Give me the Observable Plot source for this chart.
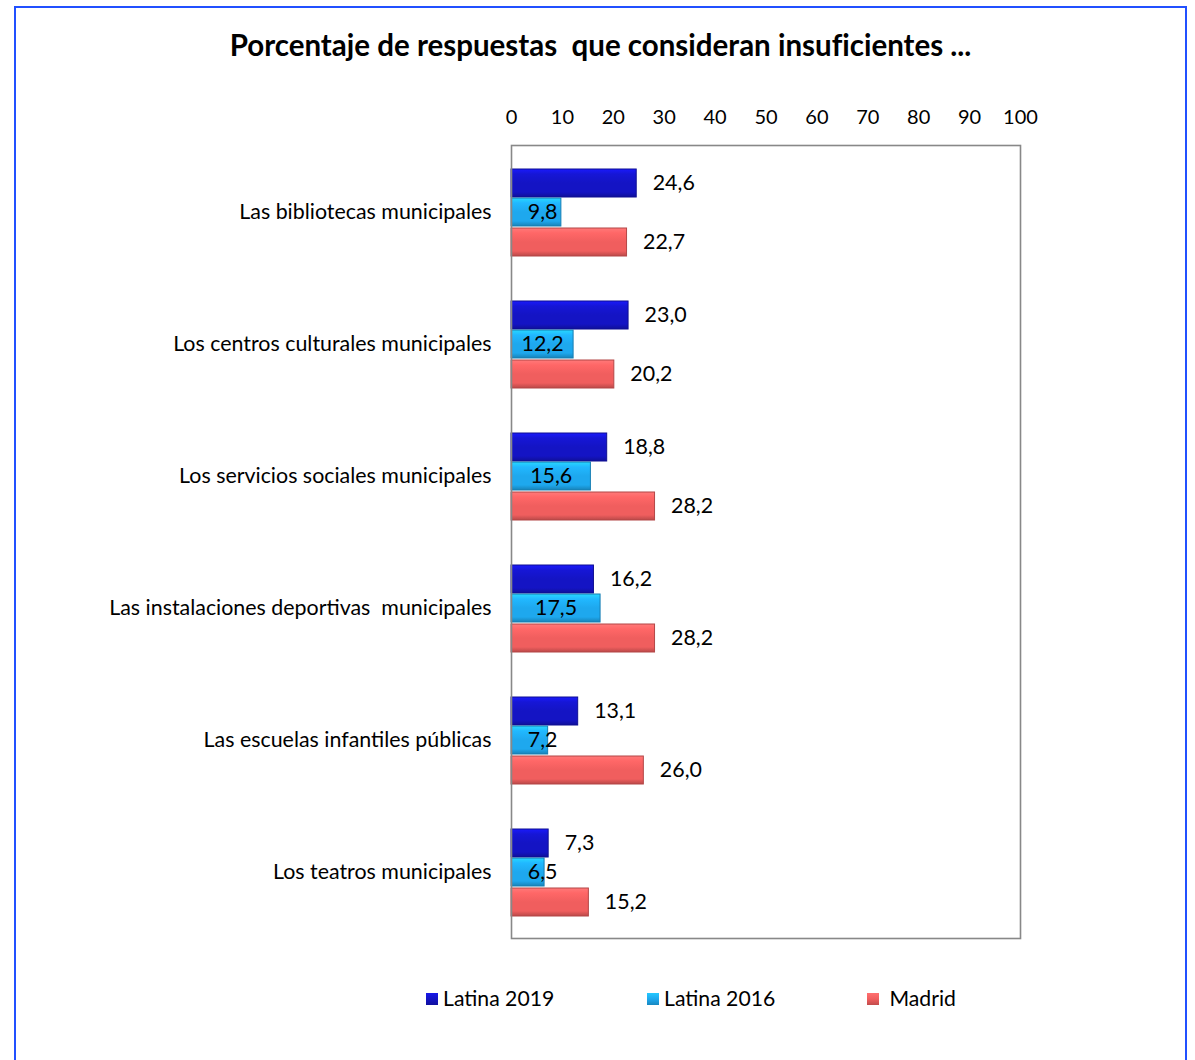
<!DOCTYPE html>
<html>
<head>
<meta charset="utf-8">
<script src="https://cdn.jsdelivr.net/npm/d3@7"></script>
<script src="https://cdn.jsdelivr.net/npm/@observablehq/plot@0.6"></script>
<style>
  html, body { margin: 0; padding: 0; background: #fff; }
  body { width: 1195px; height: 1060px; position: relative; overflow: hidden; font-family: Lato, "Noto Sans", sans-serif; color: #000; }
  #border { position: absolute; left: 14px; top: 6px; width: 1173px; height: 1100px; border: 2px solid #2150ff; box-sizing: border-box; }
  #title { position: absolute; left: 0; top: 27px; width: 1201px; text-align: center; font-size: 29.5px; font-weight: bold; white-space: pre; font-variant-ligatures: none; }
  #chart { position: absolute; left: 0; top: 90px; }
  #legend { position: absolute; top: 986px; left: 0; width: 1195px; height: 26px; font-size: 21.2px; }
  .item { position: absolute; top: 0; white-space: pre; line-height: 24px; }
  .sw { display: inline-block; width: 12px; height: 12px; margin-right: 5px; vertical-align: 1px; }
</style>
</head>
<body>
<div id="border"></div>
<div id="title">Porcentaje de respuestas  que consideran insuficientes ...</div>
<div id="chart"></div>
<div id="legend"></div>
<script>
const categories = [
  "Las bibliotecas municipales",
  "Los centros culturales municipales",
  "Los servicios sociales municipales",
  "Las instalaciones deportivas  municipales",
  "Las escuelas infantiles públicas",
  "Los teatros municipales"
];
const seriesNames = ["Latina 2019", "Latina 2016", "Madrid"];
const latina2019 = [24.6, 23.0, 18.8, 16.2, 13.1, 7.3];
const latina2016 = [9.8, 12.2, 15.6, 17.5, 7.2, 6.5];
const madrid = [22.7, 20.2, 28.2, 28.2, 26.0, 15.2];
const xTicks = [0, 10, 20, 30, 40, 50, 60, 70, 80, 90, 100];
const seriesColors = ["#1414c4", "#1ea8ee", "#f05e5e"];

const seriesValues = [latina2019, latina2016, madrid];
const data = [];
seriesNames.forEach((s, si) => {
  categories.forEach((c, ci) => {
    data.push({category: c, series: s, si, value: seriesValues[si][ci]});
  });
});

const fmt = v => v.toFixed(1).replace(".", ",");

// band height 132: bar slots within each category band
const slots = [
  {insetTop: 23, insetBottom: 81, dy: -29},
  {insetTop: 52, insetBottom: 52, dy: 0},
  {insetTop: 82, insetBottom: 22, dy: 30}
];

const marks = [];
seriesNames.forEach((s, si) => {
  const rows = data.filter(d => d.si === si);
  marks.push(Plot.barX(rows, {
    x: "value", y: "category",
    insetTop: slots[si].insetTop, insetBottom: slots[si].insetBottom,
    fill: `url(#grad${si})`,
    stroke: d3.color(seriesColors[si]).darker(0.8).formatHex(),
    strokeWidth: 1
  }));
  if (si === 1) {
    marks.push(Plot.text(rows, {
      x: d => Math.max(d.value / 2, 6.1), y: "category", text: d => fmt(d.value),
      dy: slots[si].dy, textAnchor: "middle", fill: "#000", fontSize: 21.4
    }));
  } else {
    marks.push(Plot.text(rows, {
      x: "value", y: "category", text: d => fmt(d.value),
      dy: slots[si].dy, dx: 16, textAnchor: "start", fill: "#000", fontSize: 21.4
    }));
  }
});

const chart = Plot.plot({
  width: 1195,
  height: 858,
  marginTop: 55,
  marginBottom: 10,
  marginLeft: 511,
  marginRight: 175,
  style: {fontFamily: "Lato, 'Noto Sans', sans-serif", fontSize: "20px", color: "#000", background: "transparent"},
  x: {domain: [0, 100]},
  y: {domain: categories, padding: 0},
  marks: [
    Plot.axisX({anchor: "top", ticks: xTicks, tickSize: 0, tickPadding: 22, tickFormat: d => String(d), label: null, fontSize: 20}),
    Plot.axisY({tickSize: 0, tickPadding: 20, label: null, fontSize: 21.4}),
    ...marks,
    Plot.frame({stroke: "#888", strokeWidth: 1.6})
  ]
});

// gradients for the bevelled bar look
const ns = "http://www.w3.org/2000/svg";
const defs = document.createElementNS(ns, "defs");
seriesColors.forEach((c, i) => {
  const g = document.createElementNS(ns, "linearGradient");
  g.setAttribute("id", "grad" + i);
  g.setAttribute("x1", "0"); g.setAttribute("y1", "0");
  g.setAttribute("x2", "0"); g.setAttribute("y2", "1");
  const base = d3.color(c);
  const stops = [
    [0, base.brighter(0.7)],
    [0.18, base.brighter(0.25)],
    [0.5, base],
    [0.82, base],
    [1, base.darker(0.7)]
  ];
  stops.forEach(([o, col]) => {
    const s = document.createElementNS(ns, "stop");
    s.setAttribute("offset", o);
    s.setAttribute("stop-color", col.formatHex());
    g.appendChild(s);
  });
  defs.appendChild(g);
});
const svg = chart.tagName.toLowerCase() === "svg" ? chart : chart.querySelector("svg");
svg.insertBefore(defs, svg.firstChild);
svg.querySelectorAll("text").forEach(t => t.style.whiteSpace = "pre");
document.getElementById("chart").appendChild(chart);

// legend
const legend = document.getElementById("legend");
const legendLeft = [426, 647, 867];
const legendLabels = ["Latina 2019", "Latina 2016", " Madrid"];
seriesNames.forEach((s, i) => {
  const it = document.createElement("div");
  it.className = "item";
  it.style.left = legendLeft[i] + "px";
  const sw = document.createElement("span");
  sw.className = "sw";
  sw.style.background = `linear-gradient(${d3.color(seriesColors[i]).brighter(0.5)}, ${seriesColors[i]} 50%, ${d3.color(seriesColors[i]).darker(0.6)})`;
  it.appendChild(sw);
  it.appendChild(document.createTextNode(legendLabels[i]));
  legend.appendChild(it);
});
</script>
</body>
</html>
